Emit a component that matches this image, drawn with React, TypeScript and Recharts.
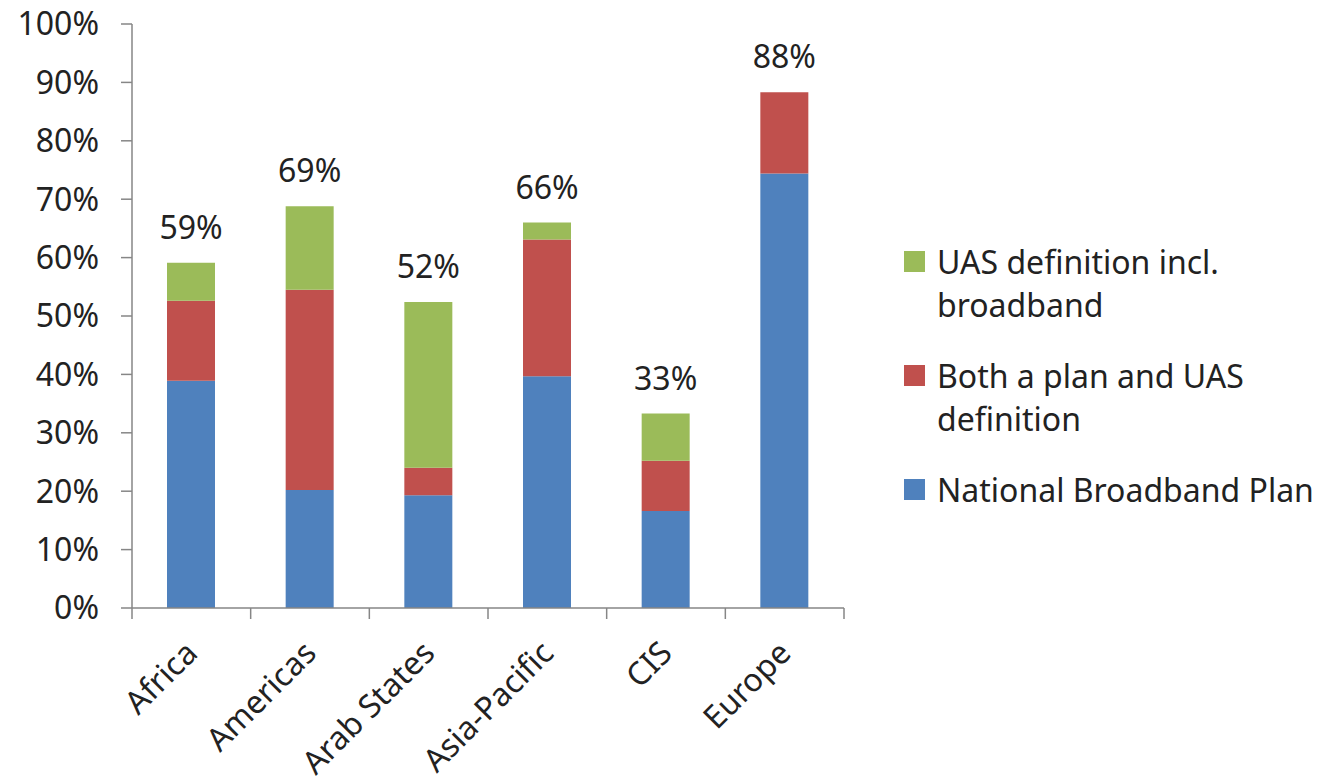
import React from "react";
import { Bar, BarChart, LabelList, Legend, XAxis, YAxis } from "recharts";

const categories = ["Africa", "Americas", "Arab States", "Asia-Pacific", "CIS", "Europe"];
const nationalPlan = [38.9, 20.2, 19.3, 39.7, 16.6, 74.4];
const bothPlanAndUas = [13.7, 34.3, 4.7, 23.4, 8.6, 13.9];
const uasDefinition = [6.5, 14.3, 28.4, 2.9, 8.1, 0];
const totalLabels = ["59%", "69%", "52%", "66%", "33%", "88%"];
const yTicks = [0, 10, 20, 30, 40, 50, 60, 70, 80, 90, 100];

const series = [
  { key: "national", name: "National Broadband Plan", color: "#4F81BD", values: nationalPlan },
  { key: "both", name: "Both a plan and UAS definition", color: "#C0504D", values: bothPlanAndUas },
  { key: "uas", name: "UAS definition incl. broadband", color: "#9BBB59", values: uasDefinition }
];

const data = categories.map((name, i) => ({
  name,
  national: nationalPlan[i],
  both: bothPlanAndUas[i],
  uas: uasDefinition[i],
  total: totalLabels[i]
}));

const FONT = "'Noto Sans', sans-serif";
const FS = 32;
const TEXT = "#222";
const AXIS = "#868686";
const W = 1326;
const H = 782;
const PLOT_LEFT = 132;
const PLOT_RIGHT = 844;
const PLOT_TOP = 24;
const PLOT_BOTTOM = 608;
const HALF_BAND = (PLOT_RIGHT - PLOT_LEFT) / categories.length / 2;

// index of the highest non-zero segment of each stack
function topSeries(index: number) {
  let top = 0;
  series.forEach((s, k) => {
    if (s.values[index] > 0) top = k;
  });
  return top;
}

function CategoryTick(props: any) {
  const { x, y, payload, index } = props;
  const last = index === categories.length - 1;
  return (
    <g>
      <line x1={x - HALF_BAND} y1={y} x2={x - HALF_BAND} y2={y + 11} stroke={AXIS} strokeWidth={1.5} />
      {last && (
        <line x1={x + HALF_BAND} y1={y} x2={x + HALF_BAND} y2={y + 11} stroke={AXIS} strokeWidth={1.5} />
      )}
      <text
        x={x + 8}
        y={y + 47}
        textAnchor="end"
        transform={`rotate(-45 ${x + 8} ${y + 47})`}
        fontFamily={FONT}
        fontSize={FS}
        fill={TEXT}
      >
        {payload.value}
      </text>
    </g>
  );
}

function TotalLabel(props: any) {
  const { x, y, width, index, layer } = props;
  if (topSeries(index) !== layer) return null;
  return (
    <text
      x={x + width / 2}
      y={y - 24}
      textAnchor="middle"
      fontFamily={FONT}
      fontSize={FS}
      fill={TEXT}
    >
      {totalLabels[index]}
    </text>
  );
}

function LegendContent() {
  const items = [...series].reverse();
  return (
    <div style={{ fontFamily: FONT, fontSize: FS, color: TEXT }}>
      {items.map((item) => (
        <div key={item.key} style={{ display: "flex", alignItems: "flex-start", marginBottom: 28 }}>
          <span
            style={{
              width: 21,
              height: 21,
              background: item.color,
              marginTop: 11,
              marginRight: 12,
              flex: "none"
            }}
          />
          <span style={{ width: 392, lineHeight: "43px" }}>{item.name}</span>
        </div>
      ))}
    </div>
  );
}

export default function App() {
  return (
    <div style={{ position: "absolute", left: 0, top: 0, width: W, height: H, background: "#fff" }}>
      <BarChart
        width={W}
        height={H}
        data={data}
        barSize={48}
        margin={{ top: PLOT_TOP, right: W - PLOT_RIGHT, bottom: 0, left: 0 }}
      >
        <XAxis
          dataKey="name"
          interval={0}
          tickLine={false}
          tickSize={0}
          tickMargin={0}
          height={H - PLOT_BOTTOM}
          axisLine={{ stroke: AXIS, strokeWidth: 1.5 }}
          tick={<CategoryTick />}
        />
        <YAxis
          width={PLOT_LEFT}
          domain={[0, 100]}
          ticks={yTicks}
          interval={0}
          tickFormatter={(v) => `${v}%`}
          tickSize={11}
          tickMargin={22}
          axisLine={{ stroke: AXIS, strokeWidth: 1.5 }}
          tickLine={{ stroke: AXIS, strokeWidth: 1.5 }}
          tick={{ fontFamily: FONT, fontSize: FS, fill: TEXT }}
        />
        <Legend
          layout="vertical"
          align="center"
          verticalAlign="middle"
          content={<LegendContent />}
          wrapperStyle={{ left: 904, top: 240, width: 420, height: "auto" }}
        />
        {series.map((s, k) => (
          <Bar key={s.key} dataKey={s.key} name={s.name} stackId="a" fill={s.color} isAnimationActive={false}>
            <LabelList dataKey="total" content={<TotalLabel layer={k} />} />
          </Bar>
        ))}
      </BarChart>
    </div>
  );
}
